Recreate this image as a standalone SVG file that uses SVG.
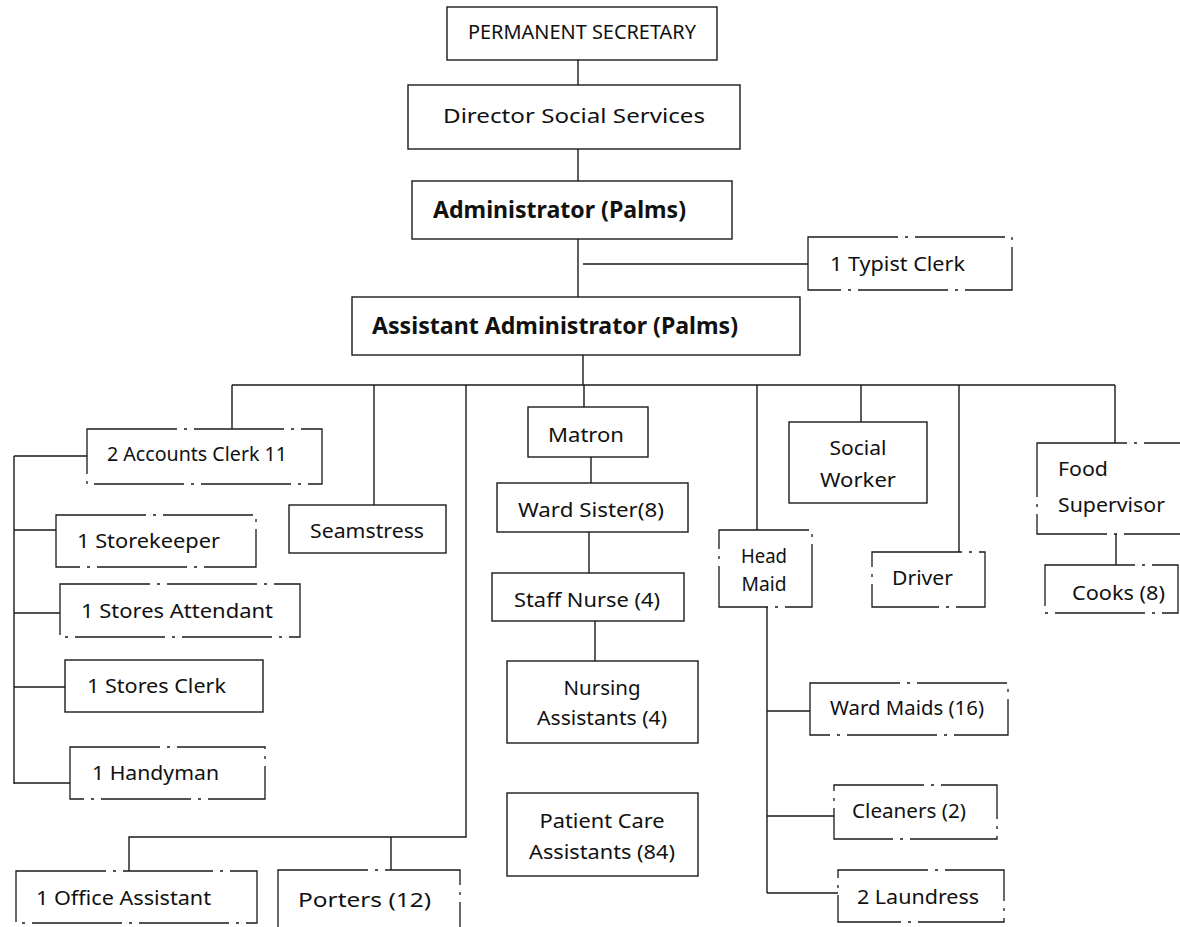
<svg xmlns="http://www.w3.org/2000/svg" width="1180" height="927" viewBox="0 0 1180 927">
<style>
.b{fill:#fff;stroke:#1a1a1a;stroke-width:1.4}
.d{fill:#fff;stroke:#1a1a1a;stroke-width:1.3;stroke-dasharray:90 7 3 7}
.c{fill:none;stroke:#1a1a1a;stroke-width:1.4}
text{font-family:"Noto Sans","Open Sans",sans-serif;fill:#111;font-size:19px}
.bo{font-weight:bold;font-size:23px}
.m{text-anchor:middle}
</style>
<rect width="1180" height="927" fill="#fff"/>
<g id="connectors">
<path class="c" d="M578 60V85M578 149V181M578 239V297M583 264H808M583 355V385M232 385H1115M232 385V429M374 385V505M466 385V837H129V871M391 837V870M584 385V407M757 385V530M861 385V422M959 385V552M1115 385V443"/>
<path class="c" d="M14 456V784M14 456H87M14 530H56M14 613H60M14 687H65M14 783H70"/>
<path class="c" d="M591 457V483M589 532V573M595 621V661"/>
<path class="c" d="M767 607V893M767 711H810M767 816H834M767 893H838M1116 534V565"/>
</g>
<g id="permanent-secretary"><rect class="b" x="447" y="7" width="270" height="53"/><text x="468" y="39" font-size="18" textLength="228" lengthAdjust="spacingAndGlyphs">PERMANENT SECRETARY</text></g>
<g id="director"><rect class="b" x="408" y="85" width="332" height="64"/><text x="443" y="123" font-size="25" textLength="262" lengthAdjust="spacingAndGlyphs">Director Social Services</text></g>
<g id="administrator"><rect class="b" x="412" y="181" width="320" height="58"/><text class="bo" x="433" y="218" textLength="253" lengthAdjust="spacingAndGlyphs">Administrator (Palms)</text></g>
<g id="typist"><rect class="d" x="808" y="237" width="204" height="53"/><text x="830" y="271" font-size="18" textLength="135" lengthAdjust="spacingAndGlyphs">1 Typist Clerk</text></g>
<g id="assistant-administrator"><rect class="b" x="352" y="297" width="448" height="58"/><text class="bo" x="372" y="334" textLength="366" lengthAdjust="spacingAndGlyphs">Assistant Administrator (Palms)</text></g>
<g id="accounts"><rect class="d" x="87" y="429" width="235" height="55"/><text x="107" y="461" textLength="180" lengthAdjust="spacingAndGlyphs">2 Accounts Clerk 11</text></g>
<g id="storekeeper"><rect class="d" x="56" y="515" width="200" height="52"/><text x="77" y="548" font-size="20" textLength="143" lengthAdjust="spacingAndGlyphs">1 Storekeeper</text></g>
<g id="stores-attendant"><rect class="d" x="60" y="584" width="240" height="53"/><text x="81" y="618" font-size="20" textLength="192" lengthAdjust="spacingAndGlyphs">1 Stores Attendant</text></g>
<g id="stores-clerk"><rect class="b" x="65" y="660" width="198" height="52"/><text x="87" y="693" font-size="20" textLength="139" lengthAdjust="spacingAndGlyphs">1 Stores Clerk</text></g>
<g id="handyman"><rect class="d" x="70" y="747" width="195" height="52"/><text x="92" y="780" font-size="20" textLength="127" lengthAdjust="spacingAndGlyphs">1 Handyman</text></g>
<g id="seamstress"><rect class="b" x="289" y="505" width="157" height="48"/><text x="310" y="538" font-size="20" textLength="114" lengthAdjust="spacingAndGlyphs">Seamstress</text></g>
<g id="matron"><rect class="b" x="528" y="407" width="120" height="50"/><text x="548" y="442" textLength="76" lengthAdjust="spacingAndGlyphs">Matron</text></g>
<g id="ward-sister"><rect class="b" x="497" y="483" width="191" height="49"/><text x="518" y="517" textLength="146" lengthAdjust="spacingAndGlyphs">Ward Sister(8)</text></g>
<g id="staff-nurse"><rect class="b" x="492" y="573" width="192" height="48"/><text x="514" y="607" textLength="146" lengthAdjust="spacingAndGlyphs">Staff Nurse (4)</text></g>
<g id="nursing-assistants"><rect class="b" x="507" y="661" width="191" height="82"/><text class="m" x="602" y="695" textLength="77" lengthAdjust="spacingAndGlyphs">Nursing</text><text class="m" x="602" y="725" textLength="130" lengthAdjust="spacingAndGlyphs">Assistants (4)</text></g>
<g id="patient-care"><rect class="b" x="507" y="793" width="191" height="83"/><text class="m" x="602" y="828" textLength="125" lengthAdjust="spacingAndGlyphs">Patient Care</text><text class="m" x="602" y="859" textLength="146" lengthAdjust="spacingAndGlyphs">Assistants (84)</text></g>
<g id="social-worker"><rect class="b" x="789" y="422" width="138" height="81"/><text class="m" x="858" y="455" textLength="57" lengthAdjust="spacingAndGlyphs">Social</text><text class="m" x="858" y="487" textLength="76" lengthAdjust="spacingAndGlyphs">Worker</text></g>
<g id="head-maid"><rect class="d" x="719" y="530" width="93" height="77"/><text class="m" x="764" y="563" font-size="18" textLength="46" lengthAdjust="spacingAndGlyphs">Head</text><text class="m" x="764" y="591" font-size="18" textLength="45" lengthAdjust="spacingAndGlyphs">Maid</text></g>
<g id="driver"><rect class="d" x="872" y="552" width="113" height="55"/><text x="892" y="585" textLength="61" lengthAdjust="spacingAndGlyphs">Driver</text></g>
<g id="food-supervisor"><rect class="d" x="1037" y="443" width="150" height="91"/><text x="1058" y="476" font-size="20" textLength="50" lengthAdjust="spacingAndGlyphs">Food</text><text x="1058" y="512" font-size="20" textLength="107" lengthAdjust="spacingAndGlyphs">Supervisor</text></g>
<g id="cooks"><rect class="d" x="1045" y="565" width="133" height="48"/><text x="1072" y="600" textLength="93" lengthAdjust="spacingAndGlyphs">Cooks (8)</text></g>
<g id="ward-maids"><rect class="d" x="810" y="683" width="198" height="52"/><text x="830" y="715" font-size="18" textLength="154" lengthAdjust="spacingAndGlyphs">Ward Maids (16)</text></g>
<g id="cleaners"><rect class="d" x="834" y="785" width="163" height="54"/><text x="852" y="818" font-size="18" textLength="114" lengthAdjust="spacingAndGlyphs">Cleaners (2)</text></g>
<g id="laundress"><rect class="d" x="838" y="870" width="166" height="52"/><text x="857" y="904" font-size="20" textLength="122" lengthAdjust="spacingAndGlyphs">2 Laundress</text></g>
<g id="office-assistant"><rect class="d" x="16" y="871" width="241" height="52"/><text x="36" y="905" textLength="175" lengthAdjust="spacingAndGlyphs">1 Office Assistant</text></g>
<g id="porters"><rect class="d" x="278" y="870" width="182" height="62"/><text x="298" y="907" font-size="22" textLength="133" lengthAdjust="spacingAndGlyphs">Porters (12)</text></g>
</svg>
